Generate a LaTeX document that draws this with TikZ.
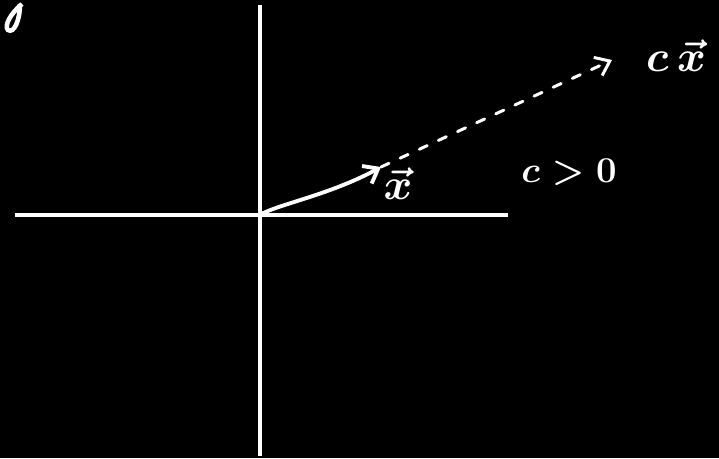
\documentclass[tikz,border=0pt]{standalone}
\usepackage{amsmath,amssymb}
\usepackage{tikz}
\usetikzlibrary{arrows.meta, positioning}

\begin{document}
\begin{tikzpicture}[
    x=0.02cm, y=-0.02cm,
    every node/.style={text=white, inner sep=0pt},
    axis/.style={draw=white, line width=1.9pt},
    vecline/.style={draw=white, line width=2.2pt, line cap=round, -{Straight Barb[length=2.6mm, width=4mm]}},
    scaled/.style={vecline, line width=1.7pt, dash pattern=on 5pt off 7pt},
    lbl/.style={font=\huge\boldmath}
]
    % Background
    \fill[black] (0,0) rectangle (719,458);
    \useasboundingbox (0,0) rectangle (719,458);

    % Axes
    \coordinate (O) at (260,215);
    \coordinate (xl) at (15,215);
    \coordinate (xr) at (508,215);
    \coordinate (yt) at (260,5);
    \coordinate (yb) at (260,456);
    \draw[axis] (xl) -- (xr);
    \draw[axis] (yt) -- (yb);

    % Fragment in the corner
    \draw[white, line width=2.6pt] (22,4) .. controls (10,14) and (4,26) .. (8,30)
        .. controls (14,34) and (20,20) .. (20,4);

    % Vectors
    \coordinate (xv) at (381,167);
    \coordinate (cxv) at (612,60);
    \draw[vecline] (O) .. controls (275,205) and (330,195) .. (xv);
    \draw[scaled] (xv) -- (cxv);

    % Labels
    \node[lbl, font=\Huge\boldmath] (xlab) at (398,184) {$\vec{x}$};
    \node[lbl, font=\Huge\boldmath] (cxlab) at (676,56) {$c\,\vec{x}$};
    \node[lbl] (cond) at (569,172) {$c>0$};
\end{tikzpicture}
\end{document}
